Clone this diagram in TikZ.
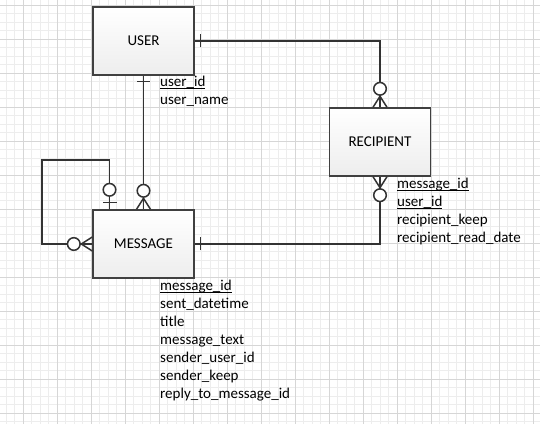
\documentclass[tikz,border=0pt]{standalone}
\usepackage{fontspec}
\setmainfont{Carlito}
\newcommand\clave[1]{\underline{\raisebox{0pt}[\height][0.5pt]{#1}}}
\tikzset{
    entidad/.style={draw=black!75, line width=1.4pt, top color=white, bottom color=black!7,
        minimum width=101pt, minimum height=68pt, inner sep=0pt, font=\fontsize{15}{18}\selectfont},
    atributos/.style={anchor=north west, inner sep=0pt, align=left, font=\fontsize{15}{18}\selectfont},
    relacion/.style={draw=black!80, line width=1.5pt},
    pics/uno/.style={code={
        \draw[relacion] (6,-6.5) -- (6,6.5);}},
    pics/ceroouno/.style={code={
        \draw[relacion] (7,-7) -- (7,7);
        \draw[relacion, fill=white] (19.5,0) circle (6.3);}},
    pics/ceromuchos/.style={code={
        \draw[relacion] (0,7) -- (11,0) -- (0,-7);
        \draw[relacion, fill=white] (18.5,0) circle (6.3);}}
}
\begin{document}
\begin{tikzpicture}[x=1pt, y=1pt]
        % Fija el marco de la figura.
        \useasboundingbox (0,0) rectangle (540,423);
        \fill[white] (0,0) rectangle (540,423);

        % Dibuja la cuadrícula de fondo.
        \begin{scope}
            \clip (0,0) rectangle (540,423);
            \draw[black!7, line width=0.5pt, step=8.5, shift={(23-34,10-34)}] (0,0) grid (600,480);
            \draw[black!16, line width=0.6pt, step=34, shift={(23-34,10-34)}] (0,0) grid (600,480);
        \end{scope}

        % Coloca las tres entidades.
        \node[entidad] (user) at (143.5,382) {USER};
        \node[entidad] (recipient) at (380,281) {RECIPIENT};
        \node[entidad] (message) at (143.5,179) {MESSAGE};

        % Escribe los atributos de cada entidad.
        \node[atributos] (atrUser) at (160,347) {\clave{user\_id}\\ user\_name};
        \node[atributos] (atrRecipient) at (397,245)
            {\clave{message\_id}\\ \clave{user\_id}\\ recipient\_keep\\ recipient\_read\_date};
        \node[atributos] (atrMessage) at (160,143)
            {\clave{message\_id}\\ sent\_datetime\\ title\\ message\_text\\ sender\_user\_id\\ sender\_keep\\ reply\_to\_message\_id};

        % Dibuja las relaciones entre entidades.
        \coordinate (bucle) at (42,263);
        \draw[relacion] (user.east) -| (recipient.north);
        \draw[relacion] (user) -- (message);
        \draw[relacion] (message.east) -| (recipient.south);
        \draw[relacion] ([xshift=-34pt]message.north) |- (bucle) |- (message.west);

        % Marca la cardinalidad en cada extremo.
        \pic at (user.east) {uno};
        \pic[rotate=90] at (recipient.north) {ceromuchos};
        \pic[rotate=-90] at (user.south) {uno};
        \pic[rotate=90] at (message.north) {ceromuchos};
        \pic at (message.east) {uno};
        \pic[rotate=-90] at (recipient.south) {ceromuchos};
        \pic[rotate=90] at ([xshift=-34pt]message.north) {ceroouno};
        \pic[rotate=180] at (message.west) {ceromuchos};
    \end{tikzpicture}
\end{document}
